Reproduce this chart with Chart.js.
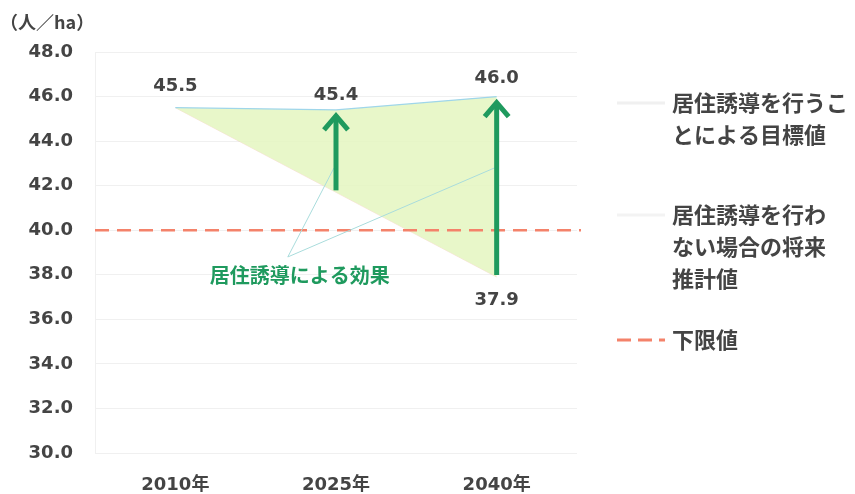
<!DOCTYPE html>
<html><head><meta charset="utf-8">
<script src="https://cdn.jsdelivr.net/npm/chart.js@4"></script>
<style>html,body{margin:0;padding:0;background:#fff}#wrap{width:855px;height:494px;position:relative}</style>
</head><body><div id="wrap"><canvas id="c"></canvas></div>
<script>
const categories = ['2010年', '2025年', '2040年'];
const targetValues = [45.5, 45.4, 46.0];
const projectedValues = [45.5, 41.7, 37.9];
const lowerLimitValue = 40.0;
const yMin = 30, yMax = 48, yStep = 2;
const effectLabel = '居住誘導による効果';
const calloutTargets = [[1, 42.8], [2, 42.8]];
const calloutAnchor = [0.7, 38.8];
const arrowIdx = [1, 2];
const legendItems = [
  {lines: ['居住誘導を行うこ', 'とによる目標値'], color: '#f0f0f0', dash: []},
  {lines: ['居住誘導を行わ', 'ない場合の将来', '推計値'], color: '#f3f3f3', dash: []},
  {lines: ['下限値'], color: '#f4826a', dash: [14, 7]}
];
const NUMFONT = '"DejaVu Sans", "Noto Sans CJK JP", sans-serif';
const FONT = '"Noto Sans CJK JP", "Noto Sans", sans-serif';
const GREEN = '#1f9a5e';
const TEXT = '#444444';

const overlay = {
  id: 'overlay',
  afterDatasetsDraw(chart) {
    const ctx = chart.ctx, x = chart.scales.x, y = chart.scales.y, a = chart.chartArea;
    ctx.save();
    // lower limit dashed line
    ctx.strokeStyle = '#f4826a'; ctx.lineWidth = 2.5; ctx.setLineDash([14, 8]);
    const ly = y.getPixelForValue(lowerLimitValue);
    ctx.beginPath(); ctx.moveTo(a.left, ly); ctx.lineTo(a.right + 4, ly); ctx.stroke();
    ctx.setLineDash([]);
    // callout lines
    ctx.strokeStyle = '#a9dcdc'; ctx.lineWidth = 1;
    const ax = x.getPixelForValue(0) + (x.getPixelForValue(1) - x.getPixelForValue(0)) * calloutAnchor[0];
    const ay = y.getPixelForValue(calloutAnchor[1]);
    calloutTargets.forEach(t => {
      ctx.beginPath(); ctx.moveTo(ax, ay); ctx.lineTo(x.getPixelForValue(t[0]) - 2, y.getPixelForValue(t[1])); ctx.stroke();
    });
    // arrows
    ctx.strokeStyle = GREEN; ctx.lineWidth = 5; ctx.lineCap = 'butt'; ctx.lineJoin = 'miter';
    arrowIdx.forEach(i => {
      const px = x.getPixelForValue(i);
      const y0 = y.getPixelForValue(projectedValues[i]);
      const y1 = y.getPixelForValue(targetValues[i]) + 4;
      ctx.beginPath(); ctx.moveTo(px, y0 - 2); ctx.lineTo(px, y1 + 4); ctx.stroke();
      ctx.beginPath(); ctx.moveTo(px - 12, y1 + 16); ctx.lineTo(px, y1 + 2); ctx.lineTo(px + 12, y1 + 16); ctx.stroke();
    });
    // value labels
    ctx.fillStyle = TEXT; ctx.font = 'bold 18px ' + NUMFONT; ctx.textAlign = 'center'; ctx.textBaseline = 'alphabetic';
    const offs = [-17, -10, -14];
    targetValues.forEach((v, i) => {
      ctx.fillText(v.toFixed(1), x.getPixelForValue(i), y.getPixelForValue(v) + offs[i]);
    });
    const last = projectedValues.length - 1;
    ctx.fillText(projectedValues[last].toFixed(1), x.getPixelForValue(last), y.getPixelForValue(projectedValues[last]) + 28);
    // effect label
    ctx.fillStyle = GREEN; ctx.font = 'bold 20px ' + FONT;
    ctx.fillText(effectLabel, ax + 12, ay + 26);
    // axis unit
    ctx.fillStyle = TEXT; ctx.font = 'bold 18px ' + FONT; ctx.textAlign = 'left';
    ctx.fillText('（人／ha）', 0, 29);
    // legend
    const ty = [111, 223, 348];
    legendItems.forEach((it, k) => {
      ctx.strokeStyle = it.color; ctx.lineWidth = 3; ctx.setLineDash(it.dash);
      ctx.beginPath(); ctx.moveTo(617, ty[k] - 8); ctx.lineTo(665, ty[k] - 8); ctx.stroke();
      ctx.setLineDash([]);
      ctx.fillStyle = TEXT; ctx.font = 'bold 22px ' + FONT; ctx.textAlign = 'left';
      it.lines.forEach((l, j) => ctx.fillText(l, 672, ty[k] + j * 32));
    });
    ctx.restore();
  }
};

new Chart(document.getElementById('c'), {
  type: 'line',
  data: {
    labels: categories,
    datasets: [
      {label: '居住誘導を行うことによる目標値', data: targetValues, borderColor: '#9fd6ea', borderWidth: 1.2,
       pointRadius: 0, fill: '+1', backgroundColor: 'rgba(228,246,192,0.85)', tension: 0},
      {label: '居住誘導を行わない場合の将来推計値', data: projectedValues, borderColor: 'rgba(244,176,160,0.35)', borderWidth: 1,
       pointRadius: 0, fill: false, tension: 0}
    ]
  },
  options: {
    responsive: true, maintainAspectRatio: false, animation: false,
    layout: {padding: {top: 52, right: 278, left: 0, bottom: 0}},
    plugins: {legend: {display: false}, tooltip: {enabled: false}},
    scales: {
      x: {offset: true, grid: {display: false}, border: {display: false},
          ticks: {color: TEXT, font: {family: NUMFONT, size: 18, weight: 'bold'}, padding: 14},
          afterFit(s) { s.height = 41; }},
      y: {min: yMin, max: yMax, grid: {color: '#f0f0f0', drawTicks: false}, border: {color: '#f0f0f0'},
          ticks: {stepSize: yStep, color: TEXT, padding: 22, font: {family: NUMFONT, size: 18, weight: 'bold'},
                  callback: v => Number(v).toFixed(1)},
          afterFit(s) { s.width = 95; }}
    }
  },
  plugins: [overlay]
});
</script></body></html>
